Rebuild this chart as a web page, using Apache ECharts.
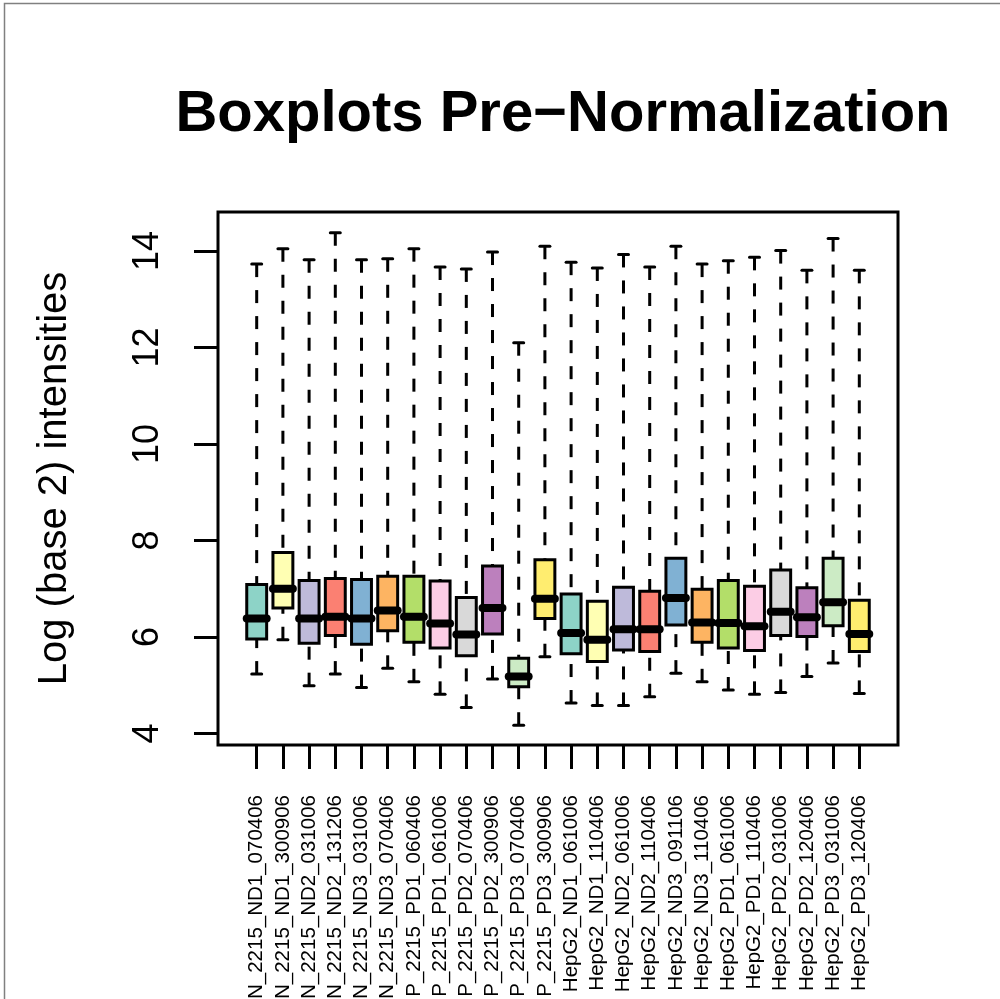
<!DOCTYPE html>
<html>
<head>
<meta charset="utf-8">
<script src="https://cdn.jsdelivr.net/npm/echarts@6/dist/echarts.min.js"></script>
<style>
  html, body { margin: 0; padding: 0; background: #fff; }
  #chart { width: 1000px; height: 999px; }
</style>
</head>
<body>
<div id="chart"></div>
<script>
// sample names (what is visible under the axis)
const sampleNames = [
  'N_2215_ND1_070406', 'N_2215_ND1_300906', 'N_2215_ND2_031006', 'N_2215_ND2_131206',
  'N_2215_ND3_031006', 'N_2215_ND3_070406', 'P_2215_PD1_060406', 'P_2215_PD1_061006',
  'P_2215_PD2_070406', 'P_2215_PD2_300906', 'P_2215_PD3_070406', 'P_2215_PD3_300906',
  'HepG2_ND1_061006', 'HepG2_ND1_110406', 'HepG2_ND2_061006', 'HepG2_ND2_110406',
  'HepG2_ND3_091106', 'HepG2_ND3_110406', 'HepG2_PD1_061006', 'HepG2_PD1_110406',
  'HepG2_PD2_031006', 'HepG2_PD2_120406', 'HepG2_PD3_031006', 'HepG2_PD3_120406'
];

// five-number summaries
const whiskerLow    = [5.23, 5.94, 4.99, 5.23, 4.95, 5.35, 5.07, 4.81, 4.54, 5.13, 4.17, 5.59,
                       4.63, 4.58, 4.58, 4.76, 5.25, 5.07, 4.90, 4.81, 4.85, 5.18, 5.46, 4.83];
const lowerQuartile = [5.96, 6.60, 5.87, 6.03, 5.85, 6.13, 5.89, 5.77, 5.61, 6.06, 4.97, 6.38,
                       5.65, 5.49, 5.73, 5.70, 6.25, 5.89, 5.77, 5.72, 6.03, 6.01, 6.23, 5.70];
const medians       = [6.38, 7.00, 6.38, 6.42, 6.38, 6.55, 6.42, 6.28, 6.05, 6.60, 5.18, 6.79,
                       6.08, 5.94, 6.16, 6.16, 6.81, 6.30, 6.29, 6.22, 6.52, 6.41, 6.72, 6.06];
const upperQuartile = [7.09, 7.75, 7.17, 7.21, 7.19, 7.26, 7.26, 7.16, 6.82, 7.47, 5.56, 7.60,
                       6.89, 6.74, 7.03, 6.95, 7.63, 6.99, 7.17, 7.05, 7.39, 7.02, 7.63, 6.76];
const whiskerHigh   = [13.73, 14.05, 13.82, 14.38, 13.82, 13.84, 14.05, 13.67, 13.63, 13.98, 12.10, 14.10,
                       13.77, 13.65, 13.93, 13.67, 14.10, 13.73, 13.80, 13.87, 14.01, 13.60, 14.26, 13.60];

const yTicks = [4, 6, 8, 10, 12, 14];

// RColorBrewer Set3
const set3 = ['#8DD3C7', '#FFFFB3', '#BEBADA', '#FB8072', '#80B1D3', '#FDB462',
              '#B3DE69', '#FCCDE5', '#D9D9D9', '#BC80BD', '#CCEBC5', '#FFED6F'];

const FONT = '"Liberation Sans", Arial, Helvetica, sans-serif';
const Y_MIN = 3.76, Y_MAX = 14.81;

const boxData = sampleNames.map((n, i) => [
  i, whiskerLow[i], lowerQuartile[i], medians[i], upperQuartile[i], whiskerHigh[i]
]);

function renderBox(params, api) {
  const i = api.value(0);
  const lo = api.coord([i, api.value(1)]);
  const q1 = api.coord([i, api.value(2)]);
  const md = api.coord([i, api.value(3)]);
  const q3 = api.coord([i, api.value(4)]);
  const hi = api.coord([i, api.value(5)]);
  const band = api.size([1, 0])[0];
  const x = lo[0];
  const hw = band * 0.38;
  const cap = hw / 2;
  const stroke = '#000';
  return {
    type: 'group',
    children: [
      { type: 'line', shape: { x1: x, y1: hi[1], x2: x, y2: q3[1] },
        style: { stroke, lineWidth: 3, lineDash: [13, 13], lineCap: 'butt' } },
      { type: 'line', shape: { x1: x, y1: lo[1], x2: x, y2: q1[1] },
        style: { stroke, lineWidth: 3, lineDash: [13, 13], lineCap: 'butt' } },
      { type: 'line', shape: { x1: x - cap, y1: hi[1], x2: x + cap, y2: hi[1] },
        style: { stroke, lineWidth: 3, lineCap: 'round' } },
      { type: 'line', shape: { x1: x - cap, y1: lo[1], x2: x + cap, y2: lo[1] },
        style: { stroke, lineWidth: 3, lineCap: 'round' } },
      { type: 'rect', shape: { x: x - hw, y: q3[1], width: hw * 2, height: q1[1] - q3[1] },
        style: { fill: set3[params.dataIndex % set3.length], stroke, lineWidth: 3 } },
      { type: 'line', shape: { x1: x - hw, y1: md[1], x2: x + hw, y2: md[1] },
        style: { stroke, lineWidth: 8, lineCap: 'round' } }
    ]
  };
}

const chart = echarts.init(document.getElementById('chart'), null, { renderer: 'canvas' });

chart.setOption({
  backgroundColor: '#fff',
  animation: false,
  title: {
    text: 'Boxplots Pre\u2212Normalization',
    left: 558,
    top: 81,
    textAlign: 'center',
    textStyle: { fontFamily: FONT, fontSize: 58, fontWeight: 'bold', color: '#000' }
  },
  graphic: [{
    type: 'rect',
    shape: { x: 4.5, y: 3.5, width: 1010, height: 1010 },
    style: { fill: 'none', stroke: '#808080', lineWidth: 1.5 },
    silent: true
  }],
  grid: [
    // frame + y axis
    { left: 218, top: 212, width: 680, height: 533, show: true, outerBoundsMode: 'none',
      borderColor: '#000', borderWidth: 3, backgroundColor: 'transparent' },
    // box positions
    { left: 243.6, top: 212, width: 628.8, height: 533, outerBoundsMode: 'none' }
  ],
  xAxis: [
    { gridIndex: 0, type: 'value', show: false, min: 0, max: 1 },
    {
      gridIndex: 1, type: 'category', data: sampleNames, boundaryGap: true,
      axisLine: { show: false },
      axisTick: { show: true, alignWithLabel: true, interval: 0, inside: false, length: 24,
                  lineStyle: { color: '#000', width: 3 } },
      axisLabel: { interval: 0, rotate: 90, margin: 50, color: '#000',
                   fontFamily: FONT, fontSize: 20.5 },
      splitLine: { show: false }
    }
  ],
  yAxis: [
    {
      gridIndex: 0, type: 'value', min: Y_MIN, max: Y_MAX,
      name: 'Log (base 2) intensities',
      nameLocation: 'middle', nameGap: 143, nameRotate: 90,
      nameTextStyle: { fontFamily: FONT, fontSize: 40, color: '#000' },
      axisLine: { show: false },
      axisTick: { show: true, customValues: yTicks, length: 24, inside: false,
                  lineStyle: { color: '#000', width: 3 } },
      axisLabel: { customValues: yTicks, rotate: 90, margin: 52, color: '#000',
                   fontFamily: FONT, fontSize: 36 },
      splitLine: { show: false }
    },
    { gridIndex: 1, type: 'value', min: Y_MIN, max: Y_MAX, show: false }
  ],
  series: [{
    type: 'custom',
    xAxisIndex: 1,
    yAxisIndex: 1,
    data: boxData,
    encode: { x: 0, y: [1, 2, 3, 4, 5] },
    renderItem: renderBox,
    clip: false
  }]
});
</script>
</body>
</html>
